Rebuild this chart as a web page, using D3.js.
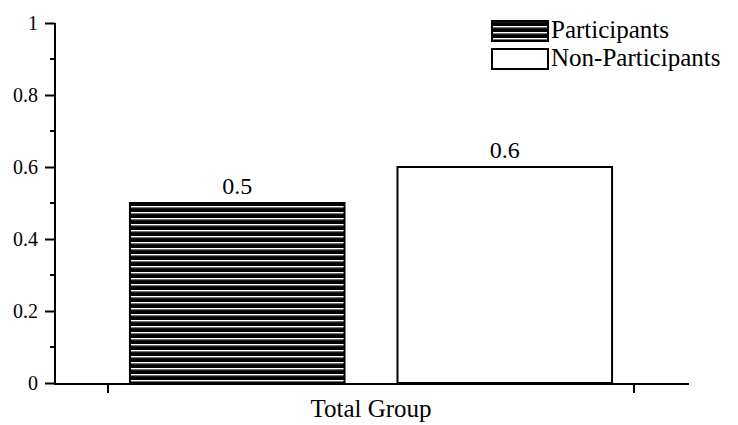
<!DOCTYPE html>
<html>
<head>
<meta charset="utf-8">
<script src="https://cdn.jsdelivr.net/npm/d3@7"></script>
</head>
<body style="margin:0">
<svg id="chart" width="738" height="425"></svg>
<script>
// ---- data ----
const groups = ["Total Group"];
const seriesNames = ["Participants", "Non-Participants"];
const participantsValues = [0.5];
const nonParticipantsValues = [0.6];
const yTickValues = [0, 0.2, 0.4, 0.6, 0.8, 1];
const yTickLabels = ["0", "0.2", "0.4", "0.6", "0.8", "1"];
const yMinorTicks = [0.1, 0.3, 0.5, 0.7, 0.9];

const FONT = '"Liberation Serif", Tinos, "Times New Roman", serif';
const svg = d3.select("#chart");

// pattern for hatched bars
const defs = svg.append("defs");
const pat = defs.append("pattern")
  .attr("id", "hatch")
  .attr("patternUnits", "userSpaceOnUse")
  .attr("width", 8).attr("height", 6);
pat.append("rect").attr("width", 8).attr("height", 6).attr("fill", "#000");
pat.append("rect").attr("y", 2).attr("width", 8).attr("height", 1.4).attr("fill", "#fff");
pat.append("rect").attr("y", 3.4).attr("width", 8).attr("height", 0.8).attr("fill", "#777");

const fills = { "Participants": "url(#hatch)", "Non-Participants": "#fff" };

// scales
const y = d3.scaleLinear().domain([0, 1]).range([383, 23]);
const x0 = d3.scaleBand().domain(groups).range([108, 634]).paddingInner(0).paddingOuter(0);
const x1 = d3.scaleBand().domain(seriesNames).range([0, x0.bandwidth()])
  .paddingInner(0.198).paddingOuter(0.082);

const rows = groups.map((g, i) => ({
  group: g,
  values: [
    { name: "Participants", value: participantsValues[i] },
    { name: "Non-Participants", value: nonParticipantsValues[i] }
  ]
}));

function serif(sel, size) {
  sel.attr("font-family", "Liberation Serif")
     .style("font-family", FONT, "important")
     .style("font-size", size + "px", "important")
     .attr("fill", "#000");
}

// bars
const gBars = svg.append("g");
rows.forEach(r => {
  const g = gBars.append("g").attr("transform", `translate(${x0(r.group)},0)`);
  g.selectAll("rect").data(r.values).join("rect")
    .attr("x", d => x1(d.name))
    .attr("y", d => y(d.value))
    .attr("width", x1.bandwidth())
    .attr("height", d => y(0) - y(d.value))
    .attr("fill", d => fills[d.name])
    .attr("stroke", "#000")
    .attr("stroke-width", 2);
  g.selectAll("text").data(r.values).join("text")
    .attr("x", d => x1(d.name) + x1.bandwidth() / 2)
    .attr("y", d => y(d.value) - 9)
    .attr("text-anchor", "middle")
    .call(serif, 24)
    .text(d => d.value);
});

// y axis
const yAxis = d3.axisLeft(y).tickValues(yTickValues)
  .tickFormat((d, i) => yTickLabels[i]).tickSize(10).tickPadding(7);
const gy = svg.append("g").attr("transform", "translate(55,0)").call(yAxis);
gy.attr("font-family", "Liberation Serif").attr("font-size", 20);
gy.select(".domain").attr("d", `M0,${y(1)}V${y(0) + 2}`).attr("stroke-width", 2);
gy.selectAll(".tick line").attr("stroke-width", 2);
gy.selectAll(".tick text").call(serif, 20);
gy.selectAll(".minor").data(yMinorTicks).join("line")
  .attr("class", "minor")
  .attr("x1", -5).attr("x2", 0)
  .attr("y1", d => y(d)).attr("y2", d => y(d))
  .attr("stroke", "#000").attr("stroke-width", 2);

// x axis
const gx = svg.append("g").attr("transform", `translate(0,${y(0) + 1})`);
gx.append("line").attr("x1", 54).attr("x2", 689).attr("y1", 0).attr("y2", 0)
  .attr("stroke", "#000").attr("stroke-width", 2);
const edges = [x0.range()[0], x0.range()[1]];
gx.selectAll(".xt").data(edges).join("line").attr("class", "xt")
  .attr("x1", d => d).attr("x2", d => d).attr("y1", 0).attr("y2", 9)
  .attr("stroke", "#000").attr("stroke-width", 2);
gx.selectAll(".xl").data(groups).join("text").attr("class", "xl")
  .attr("x", d => x0(d) + x0.bandwidth() / 2)
  .attr("y", 33)
  .attr("text-anchor", "middle")
  .call(serif, 25)
  .text(d => d);

// legend
const legend = svg.append("g");
const legendRows = [
  { name: "Participants", y0: 21 },
  { name: "Non-Participants", y0: 49 }
];
legend.selectAll("rect").data(legendRows).join("rect")
  .attr("x", 492).attr("y", d => d.y0)
  .attr("width", 56).attr("height", 20)
  .attr("fill", d => fills[d.name])
  .attr("stroke", "#000").attr("stroke-width", 2);
legend.selectAll("text").data(legendRows).join("text")
  .attr("x", 551).attr("y", d => d.y0 + 17)
  .call(serif, 25)
  .text(d => d.name);
</script>
</body>
</html>
